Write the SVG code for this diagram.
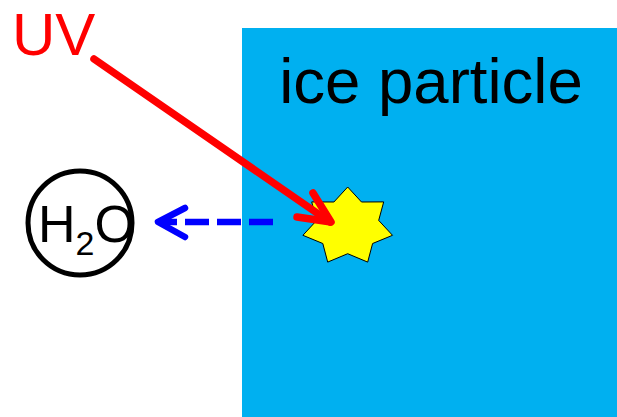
<svg xmlns="http://www.w3.org/2000/svg" width="617" height="417" viewBox="0 0 617 417">
<style>
text{font-family:"Liberation Sans",Arial,sans-serif}
.uv{stroke:#FF0000;stroke-width:7.5;fill:none;stroke-linecap:round;stroke-linejoin:round}
.bl{stroke:#0000FF;stroke-width:6.5;fill:none}
</style>
<rect width="617" height="417" fill="#FFFFFF"/>
<g id="ice">
<rect x="242" y="28" width="375" height="389" fill="#00B0F0"/>
<text x="431" y="103" font-size="63.5" text-anchor="middle" fill="#000">ice particle</text>
</g>
<g id="star">
<polygon points="347.7,187 361.5,202 383.7,201.9 378.7,220.4 392.5,235.3 372.6,243.5 367.7,262.1 347.7,253.7 327.7,262.1 322.8,243.5 302.9,235.3 316.7,220.4 311.7,201.9 333.9,202" fill="#FFFF00" stroke="#000" stroke-width="1"/>
</g>
<g id="h2o">
<circle cx="80" cy="223" r="52" fill="#FFFFFF" stroke="#000" stroke-width="5"/>
<text x="38" y="242" font-size="52" fill="#000">H<tspan font-size="34" dy="13">2</tspan><tspan dy="-13" font-size="52">O</tspan></text>
</g>
<g id="uvlabel">
<text x="12" y="55" font-size="60" fill="#FF0000">UV</text>
</g>
<g id="connectors">
<path class="uv" d="M94,59 L330,222"/>
<path class="uv" d="M313,193 L331,222 L297,217"/>
<path class="bl" d="M273,222 L162,222" stroke-dasharray="24,8"/>
<path class="bl" d="M185,208 L158,222 L185,237" stroke-linecap="round" stroke-linejoin="round"/>
</g>
</svg>
